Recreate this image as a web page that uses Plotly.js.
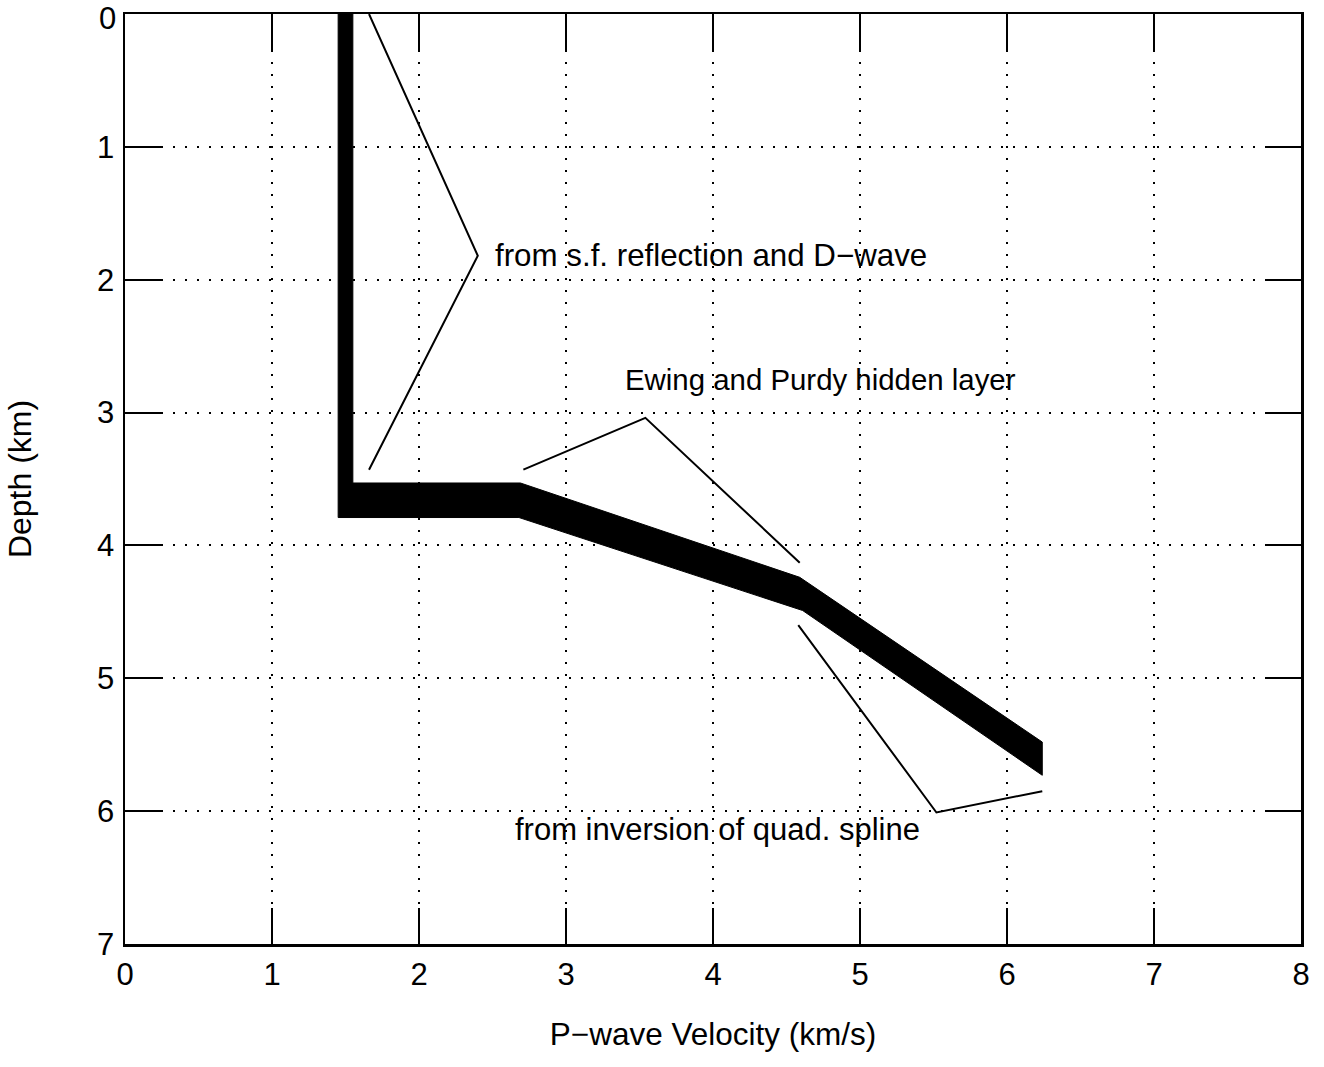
<!DOCTYPE html>
<html>
<head>
<meta charset="utf-8">
<script src="https://cdn.plot.ly/plotly-3.0.1.min.js"></script>
<style>html,body{margin:0;padding:0;background:#fff;}#chart{width:1324px;height:1067px;}</style>
</head>
<body>
<div id="chart"></div>
<script>
// Velocity-depth band (upper edge then lower edge, km/s and km)
const bandUpperVelocity = [1.55, 1.55, 2.69, 4.59, 6.24];
const bandUpperDepth    = [0.00, 3.53, 3.53, 4.24, 5.48];
const bandLowerVelocity = [6.24, 4.61, 2.68, 1.45, 1.45];
const bandLowerDepth    = [5.73, 4.49, 3.79, 3.79, 0.00];

// Leader lines for labels
const sfLineVelocity = [1.66, 2.40, 1.66];
const sfLineDepth    = [0.00, 1.82, 3.43];
const ewingLineVelocity = [2.71, 3.54, 4.59];
const ewingLineDepth    = [3.43, 3.04, 4.13];
const quadLineVelocity = [4.58, 5.52, 6.24];
const quadLineDepth    = [4.60, 6.01, 5.85];

// Labels
const labelTexts = ["from s.f. reflection and D\u2212wave", "Ewing and Purdy hidden layer", "from inversion of quad. spline"];
const labelVelocity = [2.50, 3.39, 2.64];
const labelDepth = [1.82, 2.75, 6.14];

const xTicks = [0,1,2,3,4,5,6,7,8];
const yTicks = [0,1,2,3,4,5,6,7];
// the top "0" depth label sits at the very edge of the page; it is drawn as an annotation
const yTickLabels = ['', '1', '2', '3', '4', '5', '6', '7'];
const yTopLabel = '0';

const FONT = "Liberation Sans, Arial, Helvetica, sans-serif";
const labelSizes = [31.3, 29.4, 31];

const traces = [
  {
    x: bandUpperVelocity.concat(bandLowerVelocity),
    y: bandUpperDepth.concat(bandLowerDepth),
    type: 'scatter', mode: 'lines', fill: 'toself',
    fillcolor: '#000', line: {color: '#000', width: 1},
    hoverinfo: 'skip', showlegend: false
  },
  {x: sfLineVelocity, y: sfLineDepth, type: 'scatter', mode: 'lines', line: {color: '#000', width: 2}, showlegend: false},
  {x: ewingLineVelocity, y: ewingLineDepth, type: 'scatter', mode: 'lines', line: {color: '#000', width: 2}, showlegend: false},
  {x: quadLineVelocity, y: quadLineDepth, type: 'scatter', mode: 'lines', line: {color: '#000', width: 2}, showlegend: false}
];

const annotations = labelTexts.map((t, i) => ({
  x: labelVelocity[i], y: labelDepth[i], xref: 'x', yref: 'y',
  text: t, showarrow: false, xanchor: 'left', yanchor: 'middle',
  font: {family: FONT, size: labelSizes[i], color: '#000'}
}));
annotations.push({
  x: 0, y: 1, xref: 'paper', yref: 'paper', text: yTopLabel, showarrow: false,
  xanchor: 'right', yanchor: 'top', xshift: -8, yshift: 14, borderpad: 0,
  font: {family: FONT, size: 31, color: '#000'}
});

const axisCommon = {
  showline: true, linecolor: '#000', linewidth: 2.5, mirror: 'ticks',
  ticks: 'inside', ticklen: 36, tickwidth: 2, tickcolor: '#000',
  showgrid: true, gridcolor: '#000', gridwidth: 2, griddash: '2px,10px',
  zeroline: false,
  tickfont: {family: FONT, size: 31, color: '#000'}
};

const layout = {
  width: 1324, height: 1067,
  margin: {l: 124.5, r: 23, t: 14, b: 123},
  paper_bgcolor: '#fff', plot_bgcolor: '#fff',
  showlegend: false,
  xaxis: Object.assign({}, axisCommon, {
    range: [0, 8], tickvals: xTicks, ticktext: xTicks.map(String),
    ticklabelstandoff: 1,
    title: {text: 'P\u2212wave Velocity (km/s)', font: {family: FONT, size: 31.5, color: '#000'}, standoff: 32}
  }),
  yaxis: Object.assign({}, axisCommon, {
    range: [7, 0], tickvals: yTicks, ticktext: yTickLabels,
    ticklabelstandoff: 2,
    title: {text: 'Depth (km)', font: {family: FONT, size: 32, color: '#000'}, standoff: 56}
  }),
  annotations: annotations
};

Plotly.newPlot('chart', traces, layout, {displayModeBar: false, staticPlot: true});
</script>
</body>
</html>
